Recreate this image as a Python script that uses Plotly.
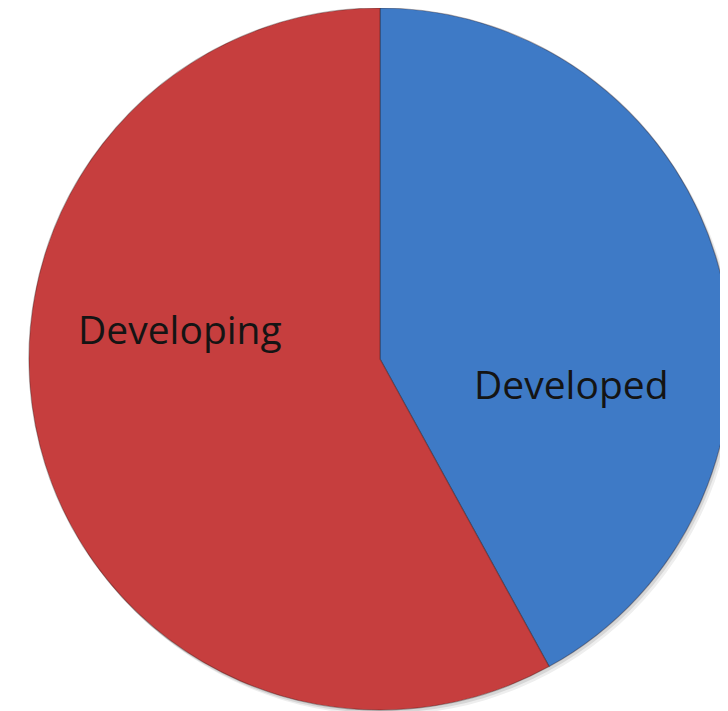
import plotly.graph_objects as go

categories = ["Developed", "Developing"]
shares = [42, 58]
colors = ["#3E7AC6", "#C63E3E"]

W, H = 740, 714

fig = go.Figure()

# soft drop shadow under the pie
for dx, dy, col in [(4, 5, "#eeeeee"), (2, 3, "#d6d6d6")]:
    fig.add_trace(go.Pie(
        labels=["shadow"], values=[sum(shares)],
        domain=dict(x=[(21 + dx) / W, (723 + dx) / W], y=[(12 - dy) / H, 1 - dy / H]),
        marker=dict(colors=[col], line=dict(width=0)),
        textinfo="none", hoverinfo="skip", showlegend=False, sort=False,
    ))

fig.add_trace(go.Pie(
    labels=categories,
    values=shares,
    sort=False,
    direction="clockwise",
    rotation=0,
    domain=dict(x=[21 / W, 723 / W], y=[12 / H, 1]),
    marker=dict(colors=colors, line=dict(color="rgba(40,20,20,0.35)", width=1.2)),
    textinfo="none",
    hoverinfo="label+percent",
    showlegend=False,
))

label_pos = {"Developing": (0.2324, 0.5518), "Developed": (0.762, 0.474)}
for name in categories:
    px, py = label_pos[name]
    fig.add_annotation(x=px, y=py, xref="paper", yref="paper", text=name,
                       xanchor="center", yanchor="middle", showarrow=False,
                       font=dict(family="Open Sans", size=39, color="#141414"))

fig.update_layout(
    width=W, height=H,
    margin=dict(l=0, r=0, t=0, b=0, pad=0),
    paper_bgcolor="white",
    plot_bgcolor="white",
)
fig.write_html("out.html")
